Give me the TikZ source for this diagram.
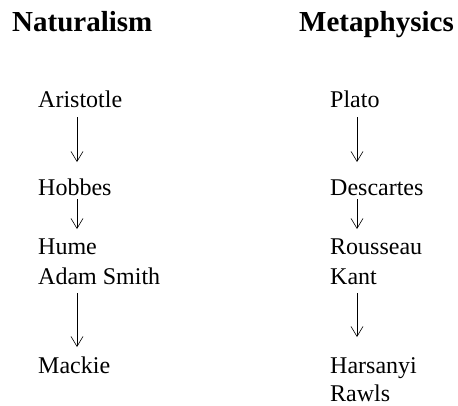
\documentclass[tikz,border=0pt]{standalone}
\usepackage{fontspec}
\setmainfont{Liberation Serif}
\usetikzlibrary{arrows.meta}
\begin{document}
\begin{tikzpicture}[x=1pt,y=-1pt,
  headline/.style={anchor=base west, inner sep=0pt, font=\fontsize{29}{29}\selectfont\bfseries},
  person/.style={anchor=base west, inner sep=0pt, font=\fontsize{24}{24}\selectfont},
  arr/.style={-{Straight Barb[length=10pt,width=12pt]}, line width=0.6pt}]
\useasboundingbox (0,0) rectangle (458,405);
% titles
\node[headline] (nat) at (12,31) {Naturalism};
\node[headline] (met) at (299,31) {Metaphysics};
% left column
\node[person] (aristotle) at (38,107.5) {Aristotle};
\node[person] (hobbes) at (38,195) {Hobbes};
\node[person] (hume) at (38,254) {Hume};
\node[person] (smith) at (38,284) {Adam Smith};
\node[person] (mackie) at (38,373) {Mackie};
% right column
\node[person] (plato) at (330,107.5) {Plato};
\node[person] (descartes) at (330,195) {Descartes};
\node[person] (rousseau) at (330,254) {Rousseau};
\node[person] (kant) at (330,284) {Kant};
\node[person] (harsanyi) at (330,373) {Harsanyi};
\node[person] (rawls) at (330,401) {Rawls};
% arrow ends
\coordinate (l1s) at (77,117); \coordinate (l1e) at (77,162);
\coordinate (l2s) at (77,199); \coordinate (l2e) at (77,229);
\coordinate (l3s) at (77,293); \coordinate (l3e) at (77,347);
\coordinate (r1s) at (357,117); \coordinate (r1e) at (357,162);
\coordinate (r2s) at (357,199); \coordinate (r2e) at (357,229);
\coordinate (r3s) at (357,293); \coordinate (r3e) at (357,337);
\draw[arr] (l1s) -- (l1e);
\draw[arr] (l2s) -- (l2e);
\draw[arr] (l3s) -- (l3e);
\draw[arr] (r1s) -- (r1e);
\draw[arr] (r2s) -- (r2e);
\draw[arr] (r3s) -- (r3e);
\end{tikzpicture}
\end{document}
